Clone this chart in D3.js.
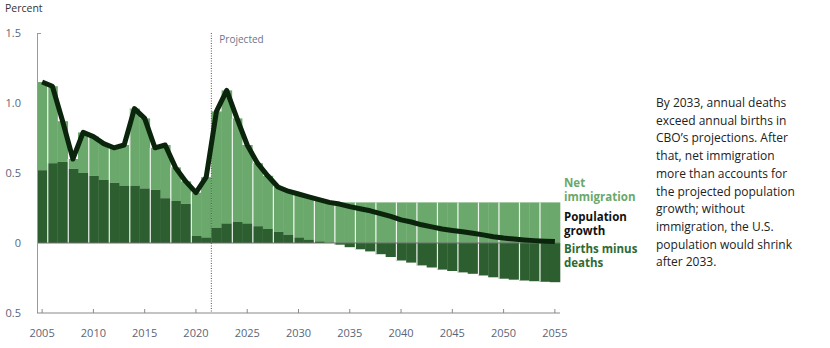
<!DOCTYPE html>
<html>
<head>
<meta charset="utf-8">
<script src="https://cdn.jsdelivr.net/npm/d3@7"></script>
<style>
  body { margin: 0; background: #fff; }
  svg { font-family: "Open Sans", "Noto Sans", sans-serif; }
</style>
</head>
<body>
<script>
// annual rates, percent
const years = d3.range(2005, 2056);
const birthsMinusDeaths = [
  0.52, 0.57, 0.58, 0.53, 0.50, 0.48, 0.45, 0.43, 0.41, 0.41,
  0.39, 0.38, 0.32, 0.30, 0.28, 0.05, 0.04, 0.11, 0.14, 0.15,
  0.14, 0.12, 0.10, 0.08, 0.06, 0.04, 0.025, 0.012, 0.0, -0.012,
  -0.03, -0.045, -0.06, -0.08, -0.10, -0.125, -0.14, -0.16, -0.175, -0.19,
  -0.20, -0.21, -0.22, -0.232, -0.245, -0.255, -0.262, -0.268, -0.273, -0.277,
  -0.28
];
const netImmigration = [
  0.63, 0.55, 0.29, 0.07, 0.29, 0.28, 0.26, 0.25, 0.29, 0.55,
  0.50, 0.30, 0.38, 0.24, 0.16, 0.31, 0.43, 0.83, 0.95, 0.74,
  0.56, 0.45, 0.38, 0.32, 0.31, 0.31, 0.305, 0.298, 0.29, 0.29,
  0.29, 0.29, 0.29, 0.29, 0.29, 0.29, 0.29, 0.29, 0.29, 0.29,
  0.29, 0.29, 0.29, 0.29, 0.29, 0.29, 0.29, 0.29, 0.29, 0.29,
  0.29
];
const populationGrowth = [
  1.15, 1.12, 0.87, 0.60, 0.79, 0.76, 0.71, 0.68, 0.70, 0.96,
  0.89, 0.68, 0.70, 0.54, 0.44, 0.36, 0.47, 0.94, 1.09, 0.89,
  0.70, 0.57, 0.48, 0.40, 0.37, 0.35, 0.33, 0.31, 0.29, 0.278,
  0.26, 0.245, 0.23, 0.21, 0.19, 0.165, 0.15, 0.13, 0.115, 0.10,
  0.09, 0.08, 0.07, 0.058, 0.045, 0.035, 0.028, 0.022, 0.017, 0.013,
  0.01
];
const yTicks = [1.5, 1.0, 0.5, 0, -0.5];
const yTickLabels = ["1.5", "1.0", "0.5", "0", "0.5"];
const xTicks = [2005, 2010, 2015, 2020, 2025, 2030, 2035, 2040, 2045, 2050, 2055];
const firstProjectedYear = 2022;
const legendItems = [
  { lines: ["Net", "immigration"], color: "#6aa86b" },
  { lines: ["Population", "growth"], color: "#111" },
  { lines: ["Births minus", "deaths"], color: "#2f6a34" }
];
const note = [
  "By 2033, annual deaths",
  "exceed annual births in",
  "CBO\u2019s projections. After",
  "that, net immigration",
  "more than accounts for",
  "the projected population",
  "growth; without",
  "immigration, the U.S.",
  "population would shrink",
  "after 2033."
];

const LIGHT = "#6aa86b", DARK = "#2c5e2f", LINE = "#0b240c";
const width = 830, height = 348;

const svg = d3.select("body").append("svg")
  .attr("width", width)
  .attr("height", height);

const x = d3.scaleBand()
  .domain(years)
  .range([37, 560])
  .padding(0);

const y = d3.scaleLinear()
  .domain([-0.5, 1.5])
  .range([313, 33]);

const xc = d => x(d) + x.bandwidth() / 2;

// bars: births minus deaths from zero, net immigration stacked on top (or from zero when births are negative)
const rows = years.map((yr, i) => ({
  year: yr,
  births: birthsMinusDeaths[i],
  imm: netImmigration[i],
  growth: populationGrowth[i]
}));

const bars = svg.append("g");
bars.selectAll("rect.imm")
  .data(rows)
  .enter().append("rect")
  .attr("class", "imm")
  .attr("x", d => x(d.year))
  .attr("width", x.bandwidth() + 0.3)
  .attr("y", d => y(Math.max(d.births, 0) + d.imm))
  .attr("height", d => y(Math.max(d.births, 0)) - y(Math.max(d.births, 0) + d.imm))
  .attr("fill", LIGHT);

bars.selectAll("rect.births")
  .data(rows)
  .enter().append("rect")
  .attr("class", "births")
  .attr("x", d => x(d.year))
  .attr("width", x.bandwidth() + 0.3)
  .attr("y", d => y(Math.max(d.births, 0)))
  .attr("height", d => Math.abs(y(d.births) - y(0)))
  .attr("fill", DARK);

// thin white separators every other year
bars.selectAll("line.sep")
  .data(rows.filter((d, i) => i > 0 && i % 2 === 1 && d.year !== firstProjectedYear))
  .enter().append("line")
  .attr("x1", d => x(d.year) + 0.5)
  .attr("x2", d => x(d.year) + 0.5)
  .attr("y1", d => y(Math.max(d.births, 0) + d.imm))
  .attr("y2", d => y(Math.min(d.births, 0)))
  .attr("stroke", "#fff")
  .attr("stroke-opacity", 0.9)
  .attr("stroke-width", 1.2);

// zero line
svg.append("line")
  .attr("x1", 37).attr("x2", 560)
  .attr("y1", y(0)).attr("y2", y(0))
  .attr("stroke", "#6f6f6f")
  .attr("stroke-width", 1.2);

// axes
svg.append("line")
  .attr("x1", 37.5).attr("x2", 37.5)
  .attr("y1", y(1.5)).attr("y2", y(-0.5))
  .attr("stroke", "#9a9a9a");
svg.append("line")
  .attr("x1", 37.5).attr("x2", 41)
  .attr("y1", y(1.5) + 0.5).attr("y2", y(1.5) + 0.5)
  .attr("stroke", "#9a9a9a");
svg.append("line")
  .attr("x1", 37).attr("x2", 560)
  .attr("y1", y(-0.5)).attr("y2", y(-0.5))
  .attr("stroke", "#8a8a8a")
  .attr("stroke-width", 1.2);

svg.selectAll("line.xtick")
  .data(xTicks)
  .enter().append("line")
  .attr("class", "xtick")
  .attr("x1", d => xc(d)).attr("x2", d => xc(d))
  .attr("y1", y(-0.5) - 4).attr("y2", y(-0.5))
  .attr("stroke", "#8a8a8a");

svg.selectAll("text.xlab")
  .data(xTicks)
  .enter().append("text")
  .attr("x", d => xc(d))
  .attr("y", 337)
  .attr("text-anchor", "middle")
  .attr("font-size", 11)
  .attr("fill", "#5b6578")
  .text(d => d);

svg.selectAll("text.ylab")
  .data(yTicks)
  .enter().append("text")
  .attr("x", 21)
  .attr("y", d => y(d) + 4)
  .attr("text-anchor", "end")
  .attr("font-size", 11)
  .attr("fill", "#5b6578")
  .text((d, i) => yTickLabels[i]);

svg.append("text")
  .attr("x", 5).attr("y", 12)
  .attr("font-size", 10.5)
  .attr("fill", "#333")
  .text("Percent");

// projection divider
const px = x(firstProjectedYear);
svg.append("line")
  .attr("x1", px).attr("x2", px)
  .attr("y1", y(1.5)).attr("y2", y(-0.5))
  .attr("stroke", "#555")
  .attr("stroke-width", 1)
  .attr("stroke-dasharray", "1,1.5");
svg.append("text")
  .attr("x", px + 8).attr("y", 43)
  .attr("font-size", 10)
  .attr("fill", "#6b7689")
  .text("Projected");

// population growth line
const line = d3.line()
  .x(d => xc(d.year))
  .y(d => y(d.growth));
svg.append("path")
  .datum(rows)
  .attr("d", line)
  .attr("fill", "none")
  .attr("stroke", LINE)
  .attr("stroke-width", 5)
  .attr("stroke-linejoin", "round")
  .attr("stroke-linecap", "butt");

// legend labels
const legendY = [183, 217, 249];
legendItems.forEach((item, i) => {
  const t = svg.append("text")
    .attr("x", 564)
    .attr("y", legendY[i] + 4)
    .attr("font-size", 11.5)
    .attr("font-weight", "bold")
    .attr("fill", item.color);
  item.lines.forEach((s, j) => {
    t.append("tspan")
      .attr("x", 564)
      .attr("dy", j === 0 ? 0 : 14)
      .text(s);
  });
});

// side note
const nt = svg.append("text")
  .attr("x", 656)
  .attr("y", 107)
  .attr("font-size", 12)
  .attr("fill", "#222");
note.forEach((s, i) => {
  nt.append("tspan")
    .attr("x", 656)
    .attr("dy", i === 0 ? 0 : 17.7)
    .text(s);
});
</script>
</body>
</html>
